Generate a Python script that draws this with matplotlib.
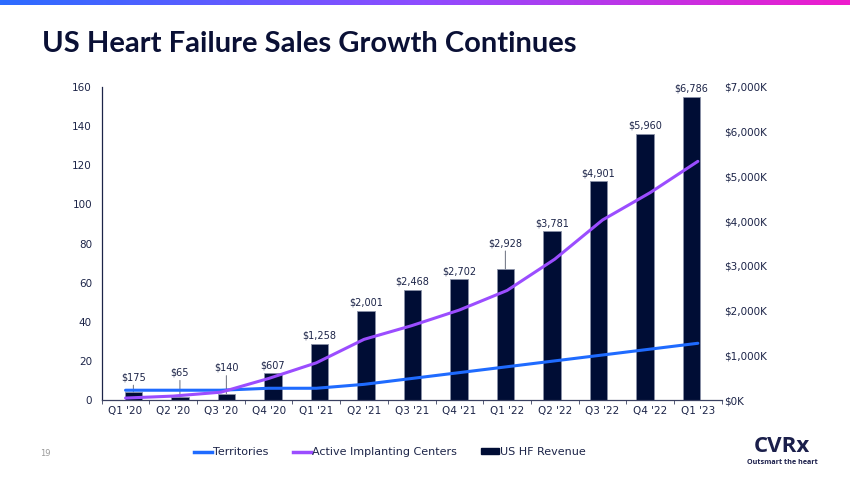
import numpy as np
import matplotlib.pyplot as plt
from matplotlib.lines import Line2D
from matplotlib.patches import Patch
from matplotlib.colors import LinearSegmentedColormap

quarters = ["Q1 '20", "Q2 '20", "Q3 '20", "Q4 '20", "Q1 '21", "Q2 '21", "Q3 '21",
            "Q4 '21", "Q1 '22", "Q2 '22", "Q3 '22", "Q4 '22", "Q1 '23"]
territories = [5, 5, 5, 6, 6, 8, 11, 14, 17, 20, 23, 26, 29]
centers = [1, 2, 4, 11, 19, 31, 38, 46, 56, 72, 92, 106, 122]
revenue = [175, 65, 140, 607, 1258, 2001, 2468, 2702, 2928, 3781, 4901, 5960, 6786]
leader_quarters = ["Q1 '20", "Q2 '20", "Q3 '20", "Q1 '22"]

NAVY = "#000d35"
TEXT = "#1c2448"
BLUE = "#1f6bff"
PURPLE = "#9b4dff"

fig = plt.figure(figsize=(8.5, 4.78), dpi=100)

# gradient strip at the top
strip = fig.add_axes([0, 1 - 5 / 478, 1, 5 / 478])
cmap = LinearSegmentedColormap.from_list("brand", ["#2c6cff", "#8f4cff", "#ee1ccc"])
strip.imshow(np.linspace(0, 1, 256)[None, :], aspect="auto", cmap=cmap)
strip.axis("off")

fig.text(42 / 850, 1 - 44 / 478, "US Heart Failure Sales Growth Continues",
         fontsize=21, fontweight="bold", family="Lato", color="#0a1035", va="center")

ax = fig.add_axes([101.7 / 850, 1 - 400 / 478, 620 / 850, 313 / 478])
ax2 = ax.twinx()
ax.set_zorder(ax2.get_zorder() + 1)
ax.patch.set_visible(False)

x = np.arange(len(quarters))
# bars sit slightly off the category centres, as in the original chart
bar_x = 0.165 + x * 0.975
ax2.bar(bar_x, revenue, width=0.37, color=NAVY, edgecolor="#8a92a8",
        linewidth=0.6, zorder=2)

ax.plot(x, territories, color=BLUE, lw=2.2, solid_capstyle="round", zorder=4)
ax.plot(x, centers, color=PURPLE, lw=2.2, solid_capstyle="round", zorder=4)

ax.set_xlim(-0.5, 12.5)
ax.set_ylim(0, 160)
ax2.set_ylim(0, 7000)

leader_offsets = {"Q1 '20": 7, "Q2 '20": 14, "Q3 '20": 15, "Q1 '22": 15}
for q, bx, v in zip(quarters, bar_x, revenue):
    label = f"${v:,}"
    if q in leader_quarters:
        ax2.annotate(label, (bx, v), xytext=(0, leader_offsets[q]), textcoords="offset points",
                     ha="center", va="bottom", fontsize=7, color=TEXT,
                     arrowprops=dict(arrowstyle="-", color="#7a7f8c", lw=0.8,
                                     shrinkA=0, shrinkB=0))
    else:
        ax2.annotate(label, (bx, v), xytext=(0, 2), textcoords="offset points",
                     ha="center", va="bottom", fontsize=7, color=TEXT)

ax.set_xticks(x)
ax.set_xticklabels(quarters)
ax.set_xticks(np.arange(-0.5, 13, 1), minor=True)
ax.tick_params(axis="x", which="major", length=0, pad=4, labelsize=7.5, labelcolor=TEXT)
ax.tick_params(axis="x", which="minor", length=3, color="#3a4060")
ax.set_yticks(range(0, 161, 20))
ax.tick_params(axis="y", length=0, pad=7, labelsize=7.5, labelcolor=TEXT)

ax2.set_yticks(range(0, 7001, 1000))
ax2.set_yticklabels([f"${v:,}K" for v in range(0, 7001, 1000)])
ax2.tick_params(axis="y", length=0, pad=2, labelsize=7.5, labelcolor=TEXT)

for a in (ax, ax2):
    for s in ("top", "right"):
        a.spines[s].set_visible(False)
ax2.spines["left"].set_visible(False)
ax2.spines["bottom"].set_visible(False)
ax.spines["left"].set_color("#1c2448")
ax.spines["bottom"].set_color("#3a4060")
ax.spines["left"].set_linewidth(0.9)
ax.spines["bottom"].set_linewidth(0.9)

handles = [Line2D([0], [0], color=BLUE, lw=2.5),
           Line2D([0], [0], color=PURPLE, lw=2.5),
           Patch(facecolor=NAVY, edgecolor=NAVY)]
fig.legend(handles, ["Territories", "Active Implanting Centers", "US HF Revenue"],
           loc="center", bbox_to_anchor=(390 / 850, 1 - 452 / 478), ncol=3,
           frameon=False, fontsize=8, handlelength=1.6, handleheight=0.45,
           handletextpad=0.1, columnspacing=2.2, labelcolor=TEXT)

fig.text(40 / 850, 1 - 453 / 478, "19", fontsize=6, color="#9a9a9a", va="center")
fig.text(782 / 850, 1 - 447 / 478, "CVRx", fontsize=16, fontweight="bold",
         family="Open Sans", color="#1b1f4b", ha="center", va="center")
fig.text(782 / 850, 1 - 463 / 478, "Outsmart the heart", fontsize=5.2, fontweight="bold",
         family="Open Sans", color="#1b1f4b", ha="center", va="center")

fig.savefig("out.png", dpi=100)
